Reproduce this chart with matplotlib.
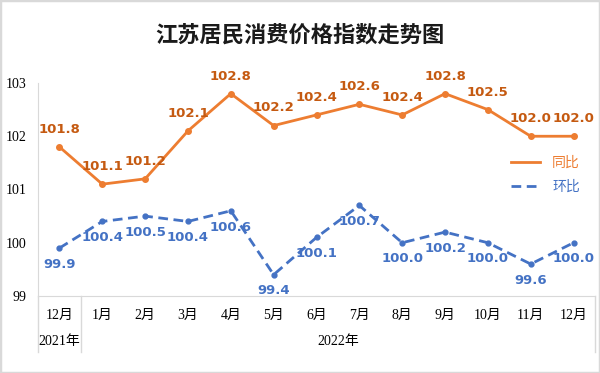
import matplotlib
matplotlib.use("Agg")
import matplotlib.pyplot as plt
from matplotlib.patches import Rectangle

months = ["12月", "1月", "2月", "3月", "4月", "5月", "6月", "7月", "8月", "9月", "10月", "11月", "12月"]
years = ["2021年", "2022年"]
year_counts = [1, 12]
tongbi = [101.8, 101.1, 101.2, 102.1, 102.8, 102.2, 102.4, 102.6, 102.4, 102.8, 102.5, 102.0, 102.0]
huanbi = [99.9, 100.4, 100.5, 100.4, 100.6, 99.4, 100.1, 100.7, 100.0, 100.2, 100.0, 99.6, 100.0]

orange = "#ED7D31"
orange_txt = "#C55A11"
blue = "#4472C4"
grey = "#D9D9D9"
cjk = ["Noto Sans CJK SC", "DejaVu Sans"]
serif = ["Liberation Serif", "Noto Sans CJK SC"]

fig = plt.figure(figsize=(6, 3.73), dpi=100)
fig.patches.append(Rectangle((0, 0), 1, 1, transform=fig.transFigure, fill=False,
                             edgecolor=grey, linewidth=2.5))
ax = fig.add_axes([38/600, 1-296/373, (595-38)/600, (296-83)/373])

x = range(len(months))
ax.plot(x, tongbi, color=orange, lw=2, marker="o", ms=4, label="同比")
ax.plot(x, huanbi, color=blue, lw=2, ls=(0, (3.5, 2)), marker="o", ms=3.5, label="环比")

for i, v in enumerate(tongbi):
    ax.annotate("%.1f" % v, (i, v), xytext=(0, 8), textcoords="offset points",
                ha="center", va="bottom", color=orange_txt, fontsize=9.5, fontweight="bold")
for i, v in enumerate(huanbi):
    ax.annotate("%.1f" % v, (i, v), xytext=(0, -7), textcoords="offset points",
                ha="center", va="top", color=blue, fontsize=9.5, fontweight="bold")

ax.set_xlim(-0.5, len(months) - 0.5)
ax.set_ylim(99, 103)
ax.set_yticks([99, 100, 101, 102, 103])
ax.set_yticklabels(["99", "100", "101", "102", "103"], family=serif, fontsize=10)
ax.set_xticks(list(x))
ax.set_xticklabels(months, family=serif, fontsize=10)
ax.tick_params(length=0, pad=9)
ax.tick_params(axis="y", pad=8)
for s in ["top", "right"]:
    ax.spines[s].set_visible(False)
ax.spines["left"].set_color(grey)
ax.spines["bottom"].set_color(grey)

# two-level category axis: year labels and separators
tr = ax.get_xaxis_transform()
start = 0
bounds = [-0.5]
for yr, n in zip(years, year_counts):
    ax.text(start + (n - 1) / 2, -45/213, yr, transform=tr, ha="center", va="center",
            family=serif, fontsize=10)
    start += n
    bounds.append(start - 0.5)
for b in bounds:
    ax.plot([b, b], [0, -56/213], transform=tr, color=grey, lw=1, clip_on=False)

leg = ax.legend(loc="upper left", bbox_to_anchor=(460/557, 1-60/213), frameon=False,
                prop={"family": cjk, "size": 10}, handlelength=2.1, labelspacing=0.75,
                handletextpad=0.9)
for t, c in zip(leg.get_texts(), [orange, blue]):
    t.set_color(c)
for h in leg.legend_handles:
    h.set_marker("")

fig.text(0.5, 1-35/373, "江苏居民消费价格指数走势图", ha="center", va="center",
         family=cjk, fontsize=16, fontweight="bold", color="#1A1A1A")

fig.savefig("out.png", dpi=100)
